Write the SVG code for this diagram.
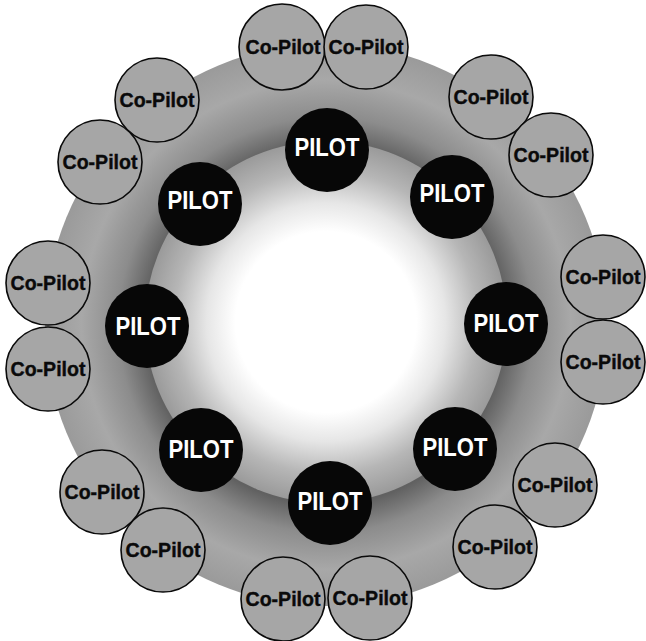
<svg xmlns="http://www.w3.org/2000/svg" width="646" height="641" viewBox="0 0 646 641">
<defs>
<radialGradient id="ringG" gradientUnits="userSpaceOnUse" cx="326" cy="325" r="281">
<stop offset="0.64" stop-color="#616161"/>
<stop offset="0.74" stop-color="#8c8c8c"/>
<stop offset="0.87" stop-color="#a8a8a8"/>
<stop offset="1" stop-color="#9a9a9a"/>
</radialGradient>
<radialGradient id="discG" gradientUnits="userSpaceOnUse" cx="326" cy="322" r="181">
<stop offset="0" stop-color="#ffffff"/>
<stop offset="0.5" stop-color="#ffffff"/>
<stop offset="0.66" stop-color="#e6e6e6"/>
<stop offset="0.84" stop-color="#b6b6b6"/>
<stop offset="1" stop-color="#9a9a9a"/>
</radialGradient>
</defs>
<style>
.pilot circle{fill:#070707}
.pilot text{fill:#ffffff;font-family:"Liberation Sans",Arial,Helvetica,sans-serif;font-weight:bold;font-size:26px;text-anchor:middle}
.copilot circle{fill:#a6a6a6;stroke:#0a0a0a;stroke-width:1.6}
.copilot text{fill:#0a0a0a;stroke:#0a0a0a;stroke-width:0.4;font-family:"Liberation Sans",Arial,Helvetica,sans-serif;font-weight:bold;font-size:20.5px;text-anchor:middle}
</style>
<rect width="646" height="641" fill="#ffffff"/>
<g id="background">
<circle cx="326" cy="325" r="281" fill="url(#ringG)"/>
<circle cx="326" cy="322" r="181" fill="url(#discG)"/>
</g>
<g id="connectors"/>
<g id="pilot-top" class="pilot"><circle cx="327" cy="150" r="42"/><text x="327" y="156" textLength="65" lengthAdjust="spacingAndGlyphs">PILOT</text></g>
<g id="pilot-top-right" class="pilot"><circle cx="452" cy="197" r="42"/><text x="452" y="202" textLength="65" lengthAdjust="spacingAndGlyphs">PILOT</text></g>
<g id="pilot-right" class="pilot"><circle cx="506" cy="324" r="42"/><text x="506" y="332" textLength="65" lengthAdjust="spacingAndGlyphs">PILOT</text></g>
<g id="pilot-bottom-right" class="pilot"><circle cx="455" cy="449" r="42"/><text x="455" y="456" textLength="65" lengthAdjust="spacingAndGlyphs">PILOT</text></g>
<g id="pilot-bottom" class="pilot"><circle cx="330" cy="503" r="42"/><text x="330" y="510" textLength="65" lengthAdjust="spacingAndGlyphs">PILOT</text></g>
<g id="pilot-bottom-left" class="pilot"><circle cx="201" cy="450" r="42"/><text x="201" y="458" textLength="65" lengthAdjust="spacingAndGlyphs">PILOT</text></g>
<g id="pilot-left" class="pilot"><circle cx="147" cy="326" r="42"/><text x="148" y="335" textLength="65" lengthAdjust="spacingAndGlyphs">PILOT</text></g>
<g id="pilot-top-left" class="pilot"><circle cx="200" cy="204" r="42"/><text x="200" y="209" textLength="65" lengthAdjust="spacingAndGlyphs">PILOT</text></g>
<g id="copilot-1" class="copilot"><circle cx="282" cy="47" r="43"/><text x="283" y="54" textLength="75" lengthAdjust="spacingAndGlyphs">Co-Pilot</text></g>
<g id="copilot-2" class="copilot"><circle cx="366" cy="47" r="42"/><text x="366" y="54" textLength="75" lengthAdjust="spacingAndGlyphs">Co-Pilot</text></g>
<g id="copilot-3" class="copilot"><circle cx="157" cy="100" r="42"/><text x="157" y="107" textLength="75" lengthAdjust="spacingAndGlyphs">Co-Pilot</text></g>
<g id="copilot-4" class="copilot"><circle cx="491" cy="97" r="42"/><text x="491" y="104" textLength="75" lengthAdjust="spacingAndGlyphs">Co-Pilot</text></g>
<g id="copilot-5" class="copilot"><circle cx="100" cy="162" r="42"/><text x="100" y="169" textLength="75" lengthAdjust="spacingAndGlyphs">Co-Pilot</text></g>
<g id="copilot-6" class="copilot"><circle cx="551" cy="155" r="42"/><text x="551" y="162" textLength="75" lengthAdjust="spacingAndGlyphs">Co-Pilot</text></g>
<g id="copilot-7" class="copilot"><circle cx="48" cy="283" r="42"/><text x="48" y="290" textLength="75" lengthAdjust="spacingAndGlyphs">Co-Pilot</text></g>
<g id="copilot-8" class="copilot"><circle cx="603" cy="277" r="42"/><text x="603" y="284" textLength="75" lengthAdjust="spacingAndGlyphs">Co-Pilot</text></g>
<g id="copilot-9" class="copilot"><circle cx="48" cy="369" r="42"/><text x="48" y="376" textLength="75" lengthAdjust="spacingAndGlyphs">Co-Pilot</text></g>
<g id="copilot-10" class="copilot"><circle cx="603" cy="362" r="42"/><text x="603" y="369" textLength="75" lengthAdjust="spacingAndGlyphs">Co-Pilot</text></g>
<g id="copilot-11" class="copilot"><circle cx="102" cy="492" r="42"/><text x="102" y="499" textLength="75" lengthAdjust="spacingAndGlyphs">Co-Pilot</text></g>
<g id="copilot-12" class="copilot"><circle cx="555" cy="485" r="42"/><text x="555" y="492" textLength="75" lengthAdjust="spacingAndGlyphs">Co-Pilot</text></g>
<g id="copilot-13" class="copilot"><circle cx="163" cy="550" r="42"/><text x="163" y="557" textLength="75" lengthAdjust="spacingAndGlyphs">Co-Pilot</text></g>
<g id="copilot-14" class="copilot"><circle cx="495" cy="547" r="42"/><text x="495" y="554" textLength="75" lengthAdjust="spacingAndGlyphs">Co-Pilot</text></g>
<g id="copilot-15" class="copilot"><circle cx="283" cy="599" r="42"/><text x="283" y="606" textLength="75" lengthAdjust="spacingAndGlyphs">Co-Pilot</text></g>
<g id="copilot-16" class="copilot"><circle cx="370" cy="598" r="42"/><text x="370" y="605" textLength="75" lengthAdjust="spacingAndGlyphs">Co-Pilot</text></g>
</svg>
